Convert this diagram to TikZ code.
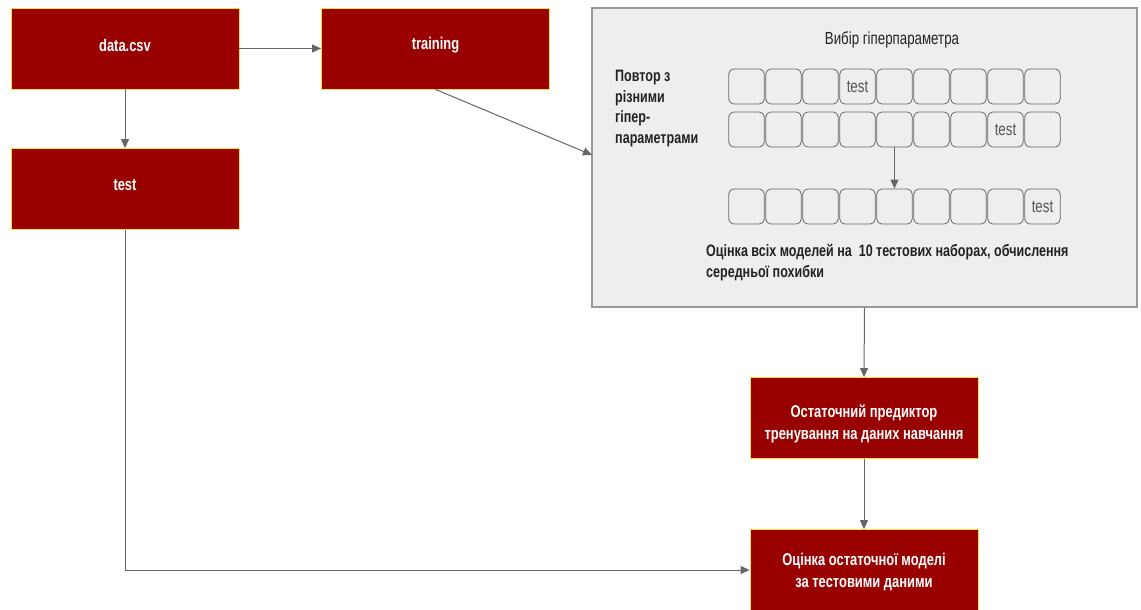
\documentclass[tikz,border=0pt]{standalone}
\usepackage{fontspec}
\setmainfont{Liberation Sans}[FakeStretch=0.76]
\usetikzlibrary{arrows.meta}
\definecolor{boxred}{HTML}{990000}
\definecolor{boxedge}{HTML}{F0E040}
\definecolor{panel}{HTML}{EEEEEE}
\definecolor{panedge}{HTML}{999999}
\definecolor{conn}{HTML}{666666}
\definecolor{darktext}{HTML}{222222}
\definecolor{celltext}{HTML}{555555}
\tikzset{
  redbox/.style={draw=boxedge, line width=0.8pt, fill=boxred, text=white,
    font=\bfseries\fontsize{17}{22.5}\selectfont, align=center,
    minimum width=228pt, minimum height=81pt, inner sep=0pt},
  panelbox/.style={draw=panedge, line width=1.2pt, fill=panel,
    minimum width=545pt, minimum height=299pt, inner sep=0pt},
  cellbox/.style={draw=conn, line width=0.8pt, rounded corners=5pt, fill=panel,
    minimum width=35.5pt, minimum height=35pt, inner sep=0pt, text=celltext,
    font=\fontsize{17.5}{17.5}\selectfont},
  plaintext/.style={text=darktext, font=\bfseries\fontsize{16.5}{20.7}\selectfont, inner sep=0pt},
  conline/.style={draw=conn, line width=1pt, -{Triangle[length=9pt,width=8pt]}}
}
\begin{document}
\begin{tikzpicture}[x=1pt,y=-1pt]
\useasboundingbox (0,0) rectangle (1141,610);
\node[redbox] (data) at (125,48.5) {};
\node[redbox, fill=none, draw=none] (datatext) at (125,45) {data.csv};
\node[redbox] (training) at (435.5,48.5) {};
\node[redbox, fill=none, draw=none] (trainingtext) at (435.5,45) {training};
\node[redbox] (test) at (125,189) {};
\node[redbox, fill=none, draw=none] (testtext) at (125,185) {test};
\node[panelbox] (grey) at (864.5,157.5) {};
\node[plaintext, font=\fontsize{17.5}{17.5}\selectfont] (title) at (892,40) {Вибір гіперпараметра};
\node[plaintext, align=left, anchor=north west] (repeat) at (615,70) {Повтор з\\різними\\гіпер-\\параметрами};
\foreach \r/\y/\t in {1/86.5/4, 2/129.5/8, 3/206.5/9}{
  \foreach \i in {1,...,9}{
    \pgfmathsetmacro{\cx}{728+37*(\i-0.5)}
    \ifnum\i=\t
      \node[cellbox] (c\r-\i) at (\cx,\y) {test};
    \else
      \node[cellbox] (c\r-\i) at (\cx,\y) {};
    \fi
  }
}
\node[plaintext, align=left, anchor=north west] (eval10) at (706,244) {Оцінка всіх моделей на\ \ 10 тестових наборах, обчислення\\середньої похибки};
\node[redbox] (final) at (864,418) {};
\node[redbox, fill=none, draw=none] (finaltext) at (864,424) {Остаточний предиктор\\тренування на даних навчання};
\node[redbox] (evalfin) at (864,570) {};
\node[redbox, fill=none, draw=none] (evaltext) at (864,572) {Оцінка остаточної моделі\\за тестовими даними};
\coordinate (gin) at (592,155);
\draw[conline] (data.east) -- (training.west);
\draw[conline] (data.south) -- (test.north);
\draw[conline] (training.south) -- (gin);
\draw[conline] (c2-5.south) -- (c3-5.north);
\draw[conline] (grey.south) -- (final.north);
\draw[conline] (final.south) -- (evalfin.north);
\draw[conline] (test.south) |- (evalfin.west);
\end{tikzpicture}
\end{document}
